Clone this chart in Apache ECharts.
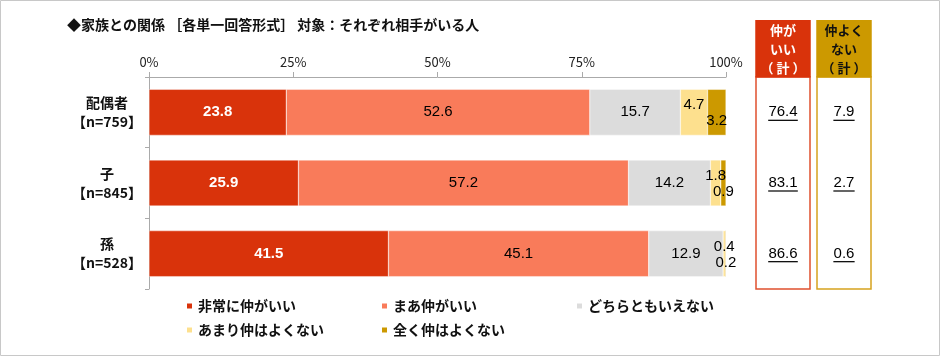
<!DOCTYPE html>
<html>
<head>
<meta charset="utf-8">
<script src="https://cdn.jsdelivr.net/npm/echarts@6/dist/echarts.min.js"></script>
<style>
html,body{margin:0;padding:0;background:#fff;}
#c{width:940px;height:356px;}
</style>
</head>
<body>
<div id="c"></div>
<script>
// ---- data ----
const categories = ['配偶者\n【n=759】', '子\n【n=845】', '孫\n【n=528】'];
const seriesNames = ['非常に仲がいい', 'まあ仲がいい', 'どちらともいえない', 'あまり仲はよくない', '全く仲はよくない'];
const veryGood = [23.8, 25.9, 41.5];
const fairlyGood = [52.6, 57.2, 45.1];
const neither = [15.7, 14.2, 12.9];
const notGood = [4.7, 1.8, 0.4];
const notAtAll = [3.2, 0.9, 0.2];
const goodTotal = [76.4, 83.1, 86.6];
const badTotal = [7.9, 2.7, 0.6];
const xTicks = [0, 25, 50, 75, 100];
const titleText = '◆家族との関係 ［各単一回答形式］ 対象：それぞれ相手がいる人';
const goodHeader = '仲が\nいい\n（ 計 ）';
const badHeader = '仲よく\nない\n（ 計 ）';

const colors = ['#D9330B', '#F97B5A', '#DCDCDC', '#FDE08E', '#CC9900'];
const FONT = '"Noto Sans CJK JP", "Noto Sans", sans-serif';
const NUMFONT = '"Liberation Sans", Arial, sans-serif';

const seriesData = [veryGood, fairlyGood, neither, notGood, notAtAll];
const labelOffsets = [[0, 0], [0, 0], [0, 0], [0, -7], [0, 9]];

const barSeries = seriesData.map((arr, si) => ({
  name: seriesNames[si],
  type: 'bar',
  stack: 'total',
  barWidth: 46,
  xAxisIndex: 0,
  yAxisIndex: 0,
  data: arr,
  itemStyle: { color: colors[si], borderColor: '#fff', borderWidth: 0.4 },
  label: {
    show: true,
    position: 'inside',
    offset: labelOffsets[si],
    formatter: p => p.value.toFixed(1),
    color: si === 0 ? '#fff' : '#000',
    fontWeight: si === 0 ? 'bold' : 'normal',
    fontSize: 15,
    fontFamily: NUMFONT
  },
  emphasis: { disabled: true }
}));

function totalSeries(arr, idx) {
  return [{
    type: 'scatter',
    xAxisIndex: idx, yAxisIndex: idx,
    data: arr.map((v, i) => [0, i]),
    symbolSize: 1,
    itemStyle: { color: 'rgba(0,0,0,0)', opacity: 1 },
    label: {
      show: true, position: 'inside',
      formatter: p => arr[p.dataIndex].toFixed(1),
      color: '#000', fontSize: 15, fontFamily: NUMFONT, opacity: 1
    },
    emphasis: { disabled: true },
    silent: true
  }, {
    type: 'scatter',
    xAxisIndex: idx, yAxisIndex: idx,
    data: arr.map((v, i) => [0, i]),
    symbol: 'rect',
    symbolSize: (val, p) => [(arr[p.dataIndex].toFixed(1).length - 1) * 8.34 + 4.6, 1.3],
    symbolOffset: [0, 8],
    itemStyle: { color: '#111', opacity: 1 },
    emphasis: { disabled: true },
    silent: true
  }];
}

function boxAxes(idx) {
  return {
    x: { type: 'value', gridIndex: idx, min: -1, max: 1, show: false },
    y: { type: 'category', gridIndex: idx, data: categories, inverse: true, show: false }
  };
}
const b1 = boxAxes(1), b2 = boxAxes(2);

const chart = echarts.init(document.getElementById('c'), null, { renderer: 'canvas' });
chart.setOption({
  animation: false,
  textStyle: { fontFamily: FONT },
  grid: [
    { left: 149, top: 77, width: 577, height: 212 },
    { left: 756, top: 77, width: 54, height: 212, show: true, borderColor: '#E0502E', borderWidth: 1.5, backgroundColor: '#fff' },
    { left: 817, top: 77, width: 54, height: 212, show: true, borderColor: '#D6A21E', borderWidth: 1.5, backgroundColor: '#fff' }
  ],
  xAxis: [{
    type: 'value', gridIndex: 0, position: 'top', min: 0, max: 100, interval: 25,
    axisLine: { show: true, lineStyle: { color: '#aaa', width: 1 } },
    axisTick: { show: true, length: 5, lineStyle: { color: '#aaa' } },
    splitLine: { show: false },
    axisLabel: {
      margin: 8, color: '#222', fontSize: 13, fontFamily: FONT,
      customValues: xTicks,
      formatter: v => v + '%'
    }
  }, b1.x, b2.x],
  yAxis: [{
    type: 'category', gridIndex: 0, data: categories, inverse: true,
    axisLine: { show: true, lineStyle: { color: '#aaa', width: 1 } },
    axisTick: { show: true, length: 4, lineStyle: { color: '#aaa' } },
    axisLabel: {
      margin: 42, align: 'center', color: '#111', fontSize: 14, fontWeight: 'bold',
      lineHeight: 19, fontFamily: FONT
    }
  }, b1.y, b2.y],
  legend: {
    left: 180, top: 294, width: 600,
    itemWidth: 7, itemHeight: 7, itemGap: 10,
    icon: 'rect',
    data: seriesNames,
    selectedMode: false,
    textStyle: { fontSize: 14, fontWeight: 'bold', color: '#111', width: 172, lineHeight: 12, fontFamily: FONT }
  },
  graphic: [
    { type: 'rect', shape: { x: 0.5, y: 0.5, width: 939, height: 355 }, style: { fill: 'none', stroke: '#c8c8c8', lineWidth: 1 }, silent: true },
    { type: 'text', left: 67, top: 18, style: { text: titleText, fontSize: 14, fontWeight: 'bold', fill: '#111', fontFamily: FONT } },
    { type: 'rect', shape: { x: 755.25, y: 20, width: 55.5, height: 57.5 }, style: { fill: '#D9330B' }, silent: true },
    { type: 'text', x: 783, y: 49, style: { text: goodHeader, fontSize: 13, fontWeight: 'bold', fill: '#fff', lineHeight: 19, align: 'center', verticalAlign: 'middle', fontFamily: FONT } },
    { type: 'rect', shape: { x: 816.25, y: 20, width: 55.5, height: 57.5 }, style: { fill: '#CC9900' }, silent: true },
    { type: 'text', x: 844, y: 49, style: { text: badHeader, fontSize: 13, fontWeight: 'bold', fill: '#111', lineHeight: 19, align: 'center', verticalAlign: 'middle', fontFamily: FONT } }
  ],
  series: [...barSeries, ...totalSeries(goodTotal, 1), ...totalSeries(badTotal, 2)]
});
</script>
</body>
</html>
